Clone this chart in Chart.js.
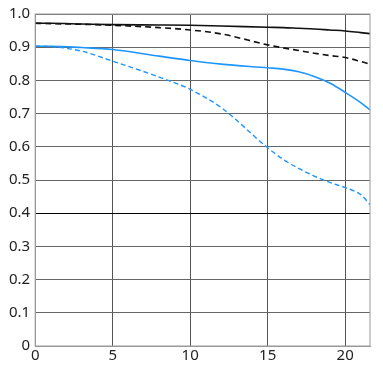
<!DOCTYPE html>
<html>
<head>
<meta charset="utf-8">
<script src="https://cdn.jsdelivr.net/npm/chart.js@4/dist/chart.umd.min.js"></script>
<style>
  html, body { margin: 0; padding: 0; background: #fff; }
  #wrap { width: 383px; height: 366px; }
</style>
</head>
<body>
<div id="wrap"><canvas id="mtfChart"></canvas></div>
<script>
// image height (mm) and contrast values
const heights = [0, 1, 3, 5, 8, 10, 12, 15, 16, 17, 18, 19, 20, 21, 21.6];
const sagBlack = [0.972, 0.972, 0.970, 0.968, 0.967, 0.966, 0.964, 0.960, 0.959, 0.957, 0.955, 0.952, 0.949, 0.944, 0.941];
const merBlack = [0.972, 0.971, 0.969, 0.966, 0.959, 0.952, 0.940, 0.907, 0.898, 0.890, 0.882, 0.875, 0.869, 0.857, 0.849];
const sagBlue = [0.903, 0.903, 0.899, 0.893, 0.873, 0.860, 0.849, 0.838, 0.834, 0.826, 0.812, 0.792, 0.764, 0.733, 0.711];
const merBlue = [0.903, 0.902, 0.888, 0.858, 0.810, 0.773, 0.718, 0.597, 0.562, 0.535, 0.512, 0.493, 0.477, 0.456, 0.426];
const xTicks = [0, 5, 10, 15, 20];
const yTicks = [0, 0.1, 0.2, 0.3, 0.4, 0.5, 0.6, 0.7, 0.8, 0.9, 1.0];

const toPoints = (vals) => vals.map((v, i) => ({ x: heights[i], y: v }));

const frame = {
  id: 'frame',
  afterDraw(chart) {
    const { ctx, chartArea: a } = chart;
    ctx.save();
    ctx.strokeStyle = '#999';
    ctx.lineWidth = 1;
    ctx.strokeRect(a.left, a.top, a.right - a.left, a.bottom - a.top);
    ctx.restore();
  }
};

new Chart(document.getElementById('mtfChart'), {
  type: 'line',
  data: {
    datasets: [
      { data: toPoints(sagBlack), borderColor: '#111', borderWidth: 1.6 },
      { data: toPoints(merBlack), borderColor: '#111', borderWidth: 1.6, borderDash: [6, 4] },
      { data: toPoints(sagBlue), borderColor: '#1e96ff', borderWidth: 1.6 },
      { data: toPoints(merBlue), borderColor: '#1e96ff', borderWidth: 1.4, borderDash: [5, 3] }
    ]
  },
  options: {
    responsive: true,
    maintainAspectRatio: false,
    animation: false,
    layout: { padding: { top: 7, right: 13, left: 4, bottom: 0 } },
    elements: {
      point: { radius: 0 },
      line: { cubicInterpolationMode: 'monotone', fill: false }
    },
    plugins: { legend: { display: false }, tooltip: { enabled: false } },
    scales: {
      x: {
        type: 'linear',
        min: 0,
        max: 21.6,
        afterBuildTicks: (axis) => { axis.ticks = xTicks.map(v => ({ value: v })); },
        ticks: { color: '#222', font: { family: 'Noto Sans', size: 15 }, padding: 1 },
        grid: { color: '#555', drawTicks: false },
        border: { color: '#999' }
      },
      y: {
        min: 0,
        max: 1,
        afterBuildTicks: (axis) => { axis.ticks = yTicks.map(v => ({ value: v })); },
        ticks: {
          color: '#222',
          font: { family: 'Noto Sans', size: 15 },
          padding: 5,
          callback: (v) => v === 0 ? '0' : v.toFixed(1)
        },
        grid: {
          color: (c) => c.tick && c.tick.value === 0.4 ? '#000' : '#666',
          drawTicks: false
        },
        border: { color: '#999' }
      }
    }
  },
  plugins: [frame]
});
</script>
</body>
</html>
